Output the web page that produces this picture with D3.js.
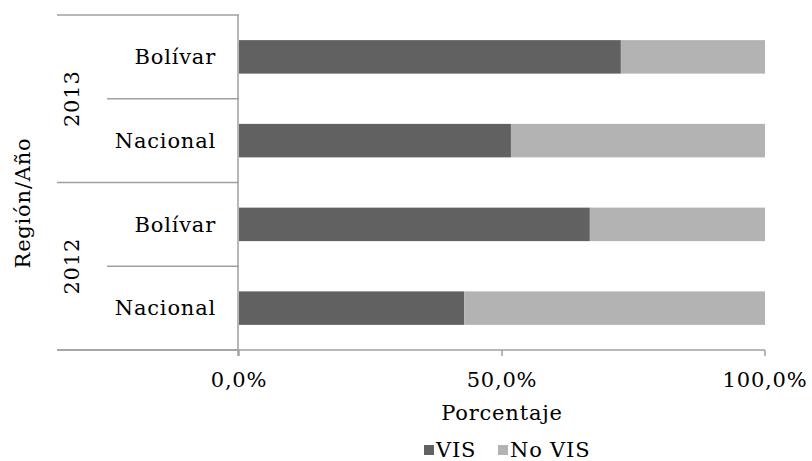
<!DOCTYPE html>
<html><head><meta charset="utf-8">
<script src="https://cdn.jsdelivr.net/npm/d3@7"></script>
<style>
body{margin:0;background:#fff;}
text{font-family:"DejaVu Serif",serif;fill:#000;letter-spacing:0.8px;}
</style></head>
<body><svg id="c" width="812" height="461"></svg>
<script>
const years = ["2013","2013","2012","2012"];
const regions = ["Bolívar","Nacional","Bolívar","Nacional"];
const vis = [72.6, 51.7, 66.7, 42.8];
const noVis = vis.map(v => 100 - v);
const seriesNames = ["VIS","No VIS"];
const seriesColors = ["#616161","#b3b3b3"];
const xTicks = [0, 50, 100];

(function(){
const svg = d3.select("#c");
const pL = 239, pR = 765, pT = 15, pB = 350;
const x = d3.scaleLinear().domain([0,100]).range([pL,pR]);
const keys = regions.map((r,i)=>years[i]+"|"+r+"|"+i);
const y = d3.scaleBand().domain(keys).range([pT,pB]).paddingInner(0.6).paddingOuter(0.3);

const data = keys.map((k,i)=>({key:k, VIS:vis[i], "No VIS":noVis[i]}));
const stack = d3.stack().keys(seriesNames)(data);
const fontSize = 21;

svg.selectAll("g.s").data(stack).join("g").attr("fill",(d,i)=>seriesColors[i])
  .selectAll("rect").data(d=>d).join("rect")
  .attr("x",d=>x(d[0])).attr("width",d=>x(d[1])-x(d[0]))
  .attr("y",d=>y(d.data.key)).attr("height",y.bandwidth());

// x axis
const gx = svg.append("g").attr("transform",`translate(0,${pB})`);
gx.append("line").attr("x1",57).attr("x2",pR).attr("stroke","#a0a0a0").attr("stroke-width",1.5);
gx.selectAll("line.t").data(xTicks).join("line").attr("class","t")
  .attr("x1",d=>x(d)).attr("x2",d=>x(d)).attr("y1",0).attr("y2",6).attr("stroke","#a0a0a0").attr("stroke-width",1.5);
gx.selectAll("text").data(xTicks).join("text")
  .attr("x",d=>x(d)).attr("y",37).attr("text-anchor","middle").style("font-size",fontSize+"px")
  .text(d=>d3.format(".1f")(d).replace(".",",")+"%");

// y axis
svg.append("line").attr("x1",pL-1).attr("x2",pL-1).attr("y1",pT).attr("y2",pB+6).attr("stroke","#a0a0a0").attr("stroke-width",1.5);
const bounds = keys.map((k,i)=> pT + i*(pB-pT)/keys.length);
bounds.push(pB);
bounds.forEach((b,i)=>{
  const isGroup = (i===0 || i===bounds.length-1 || years[i]!==years[i-1]);
  svg.append("line").attr("x1",isGroup?57:107).attr("x2",pL).attr("y1",b).attr("y2",b)
    .attr("stroke","#a0a0a0").attr("stroke-width",1.5);
});
svg.selectAll("text.reg").data(keys).join("text").attr("class","reg")
  .attr("x",216).attr("y",d=>y(d)+y.bandwidth()/2).attr("dy","0.35em").attr("text-anchor","end")
  .style("font-size",fontSize+"px").text((d,i)=>regions[i]);
const uniqYears = Array.from(new Set(years));
uniqYears.forEach(yr=>{
  const idx = keys.map((k,i)=>i).filter(i=>years[i]===yr);
  const y0 = bounds[d3.min(idx)];
  const y1 = bounds[d3.max(idx)+1];
  const cy = (y0+y1)/2;
  svg.append("text").attr("transform",`translate(79,${cy}) rotate(-90)`)
    .attr("text-anchor","middle").style("font-size",fontSize+"px").text(yr);
});
svg.append("text").attr("transform",`translate(30,203) rotate(-90)`).attr("text-anchor","middle")
  .style("font-size",fontSize+"px").text("Región/Año");
svg.append("text").attr("x",502).attr("y",420).attr("text-anchor","middle").style("font-size",fontSize+"px").text("Porcentaje");

// legend
const lx = [424, 498];
seriesNames.forEach((s,i)=>{
  svg.append("rect").attr("x",lx[i]).attr("y",445).attr("width",10).attr("height",10).attr("fill",seriesColors[i]);
  svg.append("text").attr("x",lx[i]+12).attr("y",457).style("font-size",fontSize+"px").text(s);
});
svg.append("text").attr("x",8).attr("y",477).style("font-size",fontSize+"px").text("Fuente: DANE");
})();
</script></body></html>
